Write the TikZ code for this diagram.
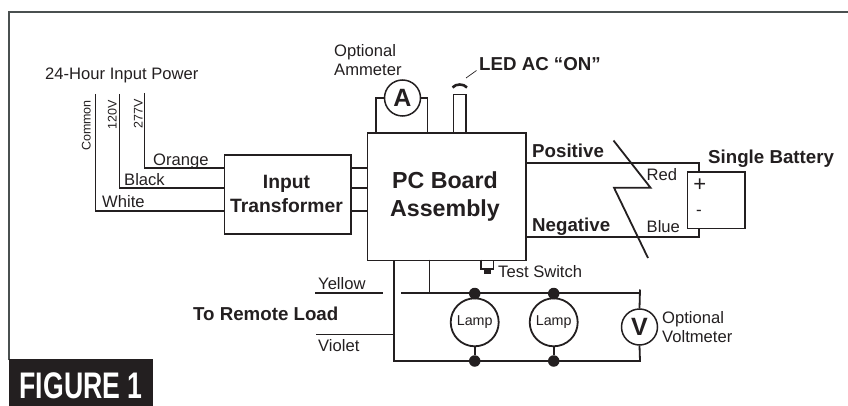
\documentclass[tikz,border=0pt]{standalone}
\usepackage{fontspec}
\setmainfont{Liberation Sans}
\definecolor{ink}{HTML}{231F20}
\definecolor{framec}{HTML}{4A5050}
\tikzset{
  wire/.style={draw=ink,line width=1.8pt},
  boxn/.style={draw=ink,line width=1.9pt,fill=white,inner sep=0pt,align=center},
  meter/.style={circle,draw=ink,line width=1.5pt,fill=white,inner sep=0pt,minimum size=36pt,font=\fontsize{25}{25}\bfseries,text=ink},
  lampn/.style={circle,draw=ink,line width=1.8pt,fill=white,inner sep=0pt,minimum size=48pt,font=\fontsize{14.3}{15}\selectfont,text=ink},
  dotn/.style={circle,fill=ink,inner sep=0pt,minimum size=11.5pt},
  lbl/.style={anchor=base west,inner sep=0pt,yshift=-0.8pt,text=ink,font=\fontsize{16.6}{17}\selectfont},
  blbl/.style={anchor=base west,inner sep=0pt,yshift=-0.6pt,text=ink,font=\fontsize{18.7}{19}\bfseries},
  rot/.style={anchor=base east,rotate=90,inner sep=0pt,text=ink,font=\fontsize{12.5}{13}\selectfont},
}
\begin{document}
\begin{tikzpicture}[x=1pt,y=-1pt]
\useasboundingbox (0,0) rectangle (848,406);
% frame
\coordinate (fa) at (9,360);
\coordinate (fb) at (9,12);
\coordinate (fc) at (848,12);
\draw[framec,line width=1.8pt] (fa) -- (fb) -- (fc);
\node[fill=ink,minimum width=144pt,minimum height=47pt,inner sep=0pt,anchor=north west] (figbox) at (9,359) {};
\node[anchor=base west,inner sep=0pt,text=white,font=\fontsize{37}{37}\bfseries,xscale=0.72] (figtxt) at (19.5,398.5) {FIGURE 1};
% boxes
\node[boxn,anchor=north west,minimum width=126.5pt,minimum height=78.5pt,align=center] (tf) at (223.5,154.5) {};
\node[boxn,anchor=north west,minimum width=158.5pt,minimum height=127.5pt] (pc) at (366.5,132) {};
\node[boxn,anchor=north west,minimum width=57.5pt,minimum height=56.5pt] (bat) at (686.5,171) {};
% input wires
\coordinate (tc) at (95.5,94);
\coordinate (tb) at (119.5,94);
\coordinate (to) at (144.5,93);
\coordinate (oa) at (223.5,168);
\coordinate (ob) at (223.5,188);
\coordinate (oc) at (223.5,211);
\draw[wire] (to) |- (oa);
\draw[wire] (tb) |- (ob);
\draw[wire] (tc) |- (oc);
\draw[wire] (oa -| tf.east) -- (oa -| pc.west);
\draw[wire] (ob -| tf.east) -- (ob -| pc.west);
\draw[wire] (oc -| tf.east) -- (oc -| pc.west);
% ammeter
\node[meter] (am) at (402.5,98) {A};
\coordinate (aml) at (376,132);
\coordinate (amr) at (427.5,132);
\draw[wire] (am.west) -| (aml);
\draw[wire] (am.east) -| (amr);
% LED
\coordinate (la) at (453.5,132);
\coordinate (lb) at (466,132);
\coordinate (lt) at (453.5,94.5);
\coordinate (lu) at (466,94.5);
\draw[wire] (la) -- (lt) -- (lu) -- (lb);
\coordinate (arca) at (452.5,87.5);
\coordinate (arcb) at (467,87.5);
\draw[ink,line width=2.6pt] (arca) .. controls (456,83.5) and (463.5,83.5) .. (arcb);
\coordinate (ledp1) at (466,78);
\coordinate (ledp2) at (476.5,70.5);
\draw[ink,line width=.7pt] (ledp1) -- (ledp2);
% battery wires
\coordinate (pp) at (699,163);
\coordinate (nn) at (699,237);
\draw[wire] (pp -| pc.east) -- (pp) -- (pp |- bat.north);
\draw[wire] (nn -| pc.east) -- (nn) -- (nn |- bat.south);
% break mark
\coordinate (z1) at (613.5,140.5);
\coordinate (z2) at (650.5,187.7);
\coordinate (z3) at (614,187.7);
\coordinate (z4) at (648,258);
\draw[wire,miter limit=10] (z1) -- (z2) -- (z3) -- (z4);
% test switch
\coordinate (sa) at (481,259.5);
\coordinate (sb) at (481,269);
\coordinate (sc) at (493.5,269);
\coordinate (sd) at (493.5,259.5);
\draw[ink,line width=1.4pt] (sa) -- (sb) -- (sc) -- (sd);
\node[fill=ink,minimum width=7pt,minimum height=5pt,inner sep=0pt] (sw) at (487.2,271.5) {};
% lamp bus
\node[lampn] (l1) at (474.7,322.3) {Lamp};
\node[lampn] (l2) at (553.7,322.3) {Lamp};
\node[meter] (vm) at (639.5,327) {V};
\node[dotn] (d1) at (474.7,293.5) {};
\node[dotn] (d2) at (553.7,293.5) {};
\node[dotn] (d3) at (474.7,361) {};
\node[dotn] (d4) at (553.7,361) {};
\draw[wire] (d1) -- (l1);
\draw[wire] (d2) -- (l2);
\draw[wire] (d3) -- (l1);
\draw[wire] (d4) -- (l2);
\coordinate (ub) at (401,293);
\coordinate (ue) at (640,293);
\coordinate (ut) at (640,289.5);
\coordinate (bs) at (394,261);
\coordinate (bc) at (394,361);
\coordinate (be) at (640,361);
\coordinate (ya) at (315,293);
\coordinate (yb) at (383,293);
\coordinate (va) at (316,334.7);
\coordinate (vb) at (394,334.7);
\coordinate (st) at (429.5,259.5);
\coordinate (sj) at (429.5,293);
\draw[wire] (ub) -- (ue);
\draw[wire] (ut) -- (vm.north);
\draw[wire] (vm.south) -- (be) -- (bc) -- (bs);
\draw[wire,line width=1.5pt] (ya) -- (yb);
\draw[wire,line width=1.5pt] (va) -- (vb);
\draw[wire] (st) -- (sj);
% texts
\node[lbl] (t24) at (45,79) {24-Hour Input Power};
\node[rot] (tcm) at (90.5,100) {Common};
\node[rot] (t120) at (116.5,100) {120V};
\node[rot] (t277) at (142.5,99) {277V};
\node[lbl] (torg) at (153,165) {Orange};
\node[lbl] (tblk) at (124,185) {Black};
\node[lbl] (twht) at (102,207) {White};
\node[anchor=base,inner sep=0pt,text=ink,font=\fontsize{19.3}{20}\bfseries] (tin) at (286.5,188.5) {Input};
\node[anchor=base,inner sep=0pt,text=ink,font=\fontsize{19.3}{20}\bfseries] (ttr) at (286.5,212) {Transformer};
\node[anchor=base,inner sep=0pt,text=ink,font=\fontsize{23.2}{24}\bfseries] (tpc) at (445,188.5) {PC Board};
\node[anchor=base,inner sep=0pt,text=ink,font=\fontsize{23.2}{24}\bfseries] (tas) at (445,216) {Assembly};
\node[lbl] (topt) at (334,56) {Optional};
\node[lbl] (tamm) at (334,75) {Ammeter};
\node[blbl] (tled) at (479,69.5) {LED AC “ON”};
\node[blbl] (tpos) at (532,156.5) {Positive};
\node[blbl] (tneg) at (532,231) {Negative};
\node[blbl] (tbat) at (708,163) {Single Battery};
\node[lbl] (tred) at (646.5,180) {Red};
\node[lbl] (tblu) at (646.5,232) {Blue};
\node[anchor=center,inner sep=0pt,text=ink,font=\fontsize{22}{22}\selectfont] (tplus) at (699.7,185) {+};
\node[anchor=center,inner sep=0pt,text=ink,font=\fontsize{17}{17}\selectfont] (tminus) at (699,213) {-};
\node[lbl] (tsw) at (498,277) {Test Switch};
\node[lbl] (tyel) at (318,289) {Yellow};
\node[lbl] (tvio) at (318,351) {Violet};
\node[blbl] (trem) at (193,319.5) {To Remote Load};
\node[lbl] (topv) at (662,323) {Optional};
\node[lbl] (tvol) at (662,342) {Voltmeter};
\end{tikzpicture}
\end{document}
